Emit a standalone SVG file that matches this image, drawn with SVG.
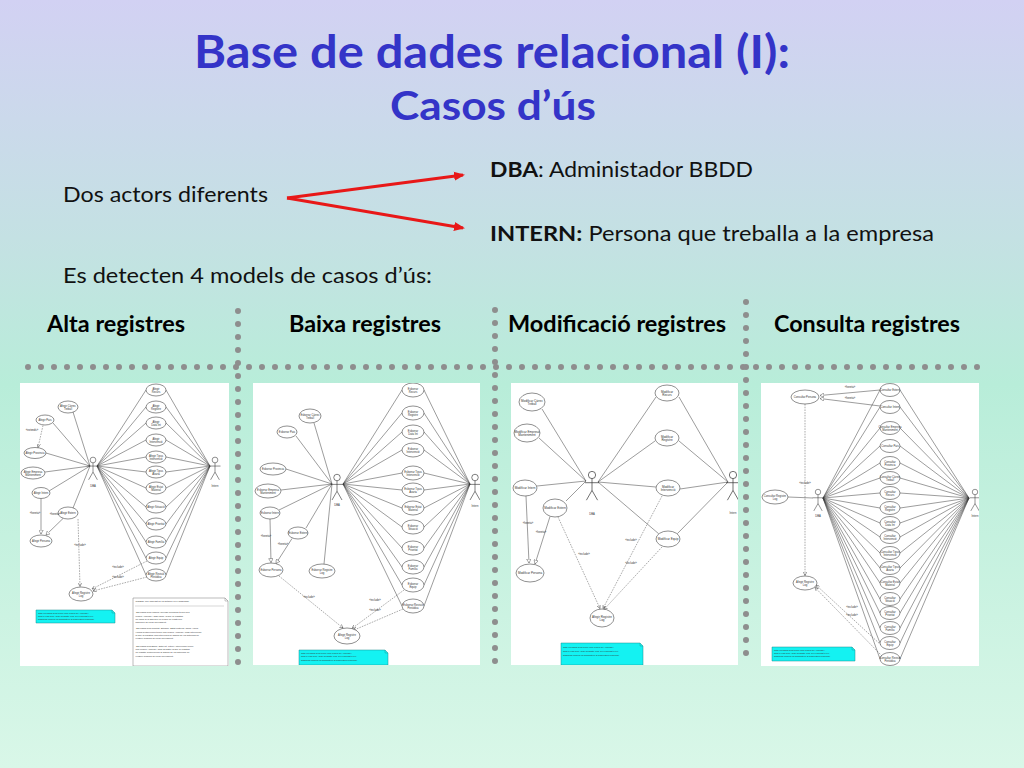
<svg xmlns="http://www.w3.org/2000/svg" xmlns:xlink="http://www.w3.org/1999/xlink" width="1024" height="768" viewBox="0 0 1024 768">
<defs>
<linearGradient id="bg" x1="0" y1="0" x2="0" y2="1">
<stop offset="0" stop-color="#d2d1f3"/>
<stop offset="0.33" stop-color="#c3e2e2"/>
<stop offset="0.5" stop-color="#b8edd9"/>
<stop offset="1" stop-color="#d9f7e8"/>
</linearGradient>
<marker id="redHead" markerUnits="userSpaceOnUse" markerWidth="11" markerHeight="10" refX="9" refY="5" orient="auto">
<path d="M0,0.5 L11,5 L0,9.5 z" fill="#e81818"/>
</marker>
<marker id="gen" markerUnits="userSpaceOnUse" markerWidth="5" markerHeight="5" refX="4.2" refY="2.5" orient="auto">
<path d="M0.3,0.3 L4.2,2.5 L0.3,4.7 z" fill="#fff" stroke="#333" stroke-width="0.4"/>
</marker>
<marker id="opn" markerUnits="userSpaceOnUse" markerWidth="4" markerHeight="4" refX="3.6" refY="2" orient="auto">
<path d="M0,0.2 L3.6,2 L0,3.8" fill="none" stroke="#333" stroke-width="0.45"/>
</marker>
<g id="actor" fill="none" stroke="#333" stroke-width="0.5">
<circle cx="0" cy="0" r="2.6" fill="#fff"/>
<line x1="0" y1="2.6" x2="0" y2="11"/>
<line x1="-5" y1="5.5" x2="5" y2="5.5"/>
<line x1="0" y1="11" x2="-4" y2="18"/>
<line x1="0" y1="11" x2="4" y2="18"/>
</g>
<clipPath id="c1"><rect x="20" y="383" width="209" height="283"/></clipPath>
<clipPath id="c2"><rect x="253" y="383" width="227" height="282"/></clipPath>
<clipPath id="c3"><rect x="511" y="383" width="227" height="282"/></clipPath>
<clipPath id="c4"><rect x="761" y="383" width="218" height="283"/></clipPath>
</defs>
<style>
.title{font-family:"Lato","Liberation Sans",sans-serif;font-weight:bold;fill:#3434c8;text-anchor:middle}
.body{font-family:"Lato","Liberation Sans",sans-serif;font-size:21px;fill:#111}
.head{font-family:"Lato","Liberation Sans",sans-serif;font-size:22px;font-weight:bold;fill:#000;text-anchor:middle}
.dots{stroke:#8e8e8e;stroke-width:6;stroke-linecap:round;stroke-dasharray:0 13;fill:none}
.frame{fill:#fff}
.uc{fill:#fff;stroke:#333;stroke-width:0.55}
.ln{stroke:#3a3a3a;stroke-width:0.5;fill:none}
.ds{stroke:#444;stroke-width:0.45;stroke-dasharray:1.6 1.1;fill:none}
.t{font-family:"Liberation Sans",Arial,sans-serif;font-size:2.7px;fill:#333;text-anchor:middle}
.tb{font-family:"Liberation Sans",Arial,sans-serif;font-size:3px;fill:#333;text-anchor:middle}
.n{font-family:"Liberation Sans",Arial,sans-serif;font-size:2.3px;fill:#333}
.cy{fill:#14f2f2;stroke:#1a8f8f;stroke-width:0.5}
.wn{fill:#fff;stroke:#777;stroke-width:0.5}
.arrow{stroke:#e81818;stroke-width:3;fill:none}
</style>
<rect x="0" y="0" width="1024" height="768" fill="url(#bg)"/>

<g id="title">
<text class="title" x="492" y="68" font-size="46" textLength="596" lengthAdjust="spacingAndGlyphs">Base de dades relacional (I):</text>
<text class="title" x="493" y="120" font-size="40" textLength="206" lengthAdjust="spacingAndGlyphs">Casos d’ús</text>
</g>

<g id="node-actors"><text class="body" x="63" y="202" textLength="205" lengthAdjust="spacingAndGlyphs">Dos actors diferents</text></g>
<g id="node-dba"><text class="body" x="490" y="177" textLength="263" lengthAdjust="spacingAndGlyphs"><tspan font-weight="bold">DBA</tspan>: Administador BBDD</text></g>
<g id="node-intern"><text class="body" x="490" y="241" textLength="444" lengthAdjust="spacingAndGlyphs"><tspan font-weight="bold">INTERN:</tspan> Persona que treballa a la empresa</text></g>
<g id="connectors">
<line class="arrow" x1="287" y1="198" x2="463" y2="175" marker-end="url(#redHead)"/>
<line class="arrow" x1="287" y1="198" x2="463" y2="228" marker-end="url(#redHead)"/>
</g>
<g id="node-models"><text class="body" x="63" y="283" textLength="369" lengthAdjust="spacingAndGlyphs">Es detecten 4 models de casos d’ús:</text></g>

<g id="headings">
<text class="head" x="116" y="332" textLength="138" lengthAdjust="spacingAndGlyphs">Alta registres</text>
<text class="head" x="365" y="332" textLength="152" lengthAdjust="spacingAndGlyphs">Baixa registres</text>
<text class="head" x="617" y="332" textLength="218" lengthAdjust="spacingAndGlyphs">Modificació registres</text>
<text class="head" x="867" y="332" textLength="186" lengthAdjust="spacingAndGlyphs">Consulta registres</text>
</g>

<g id="separators">
<line class="dots" x1="28" y1="367" x2="980" y2="367"/>
<line class="dots" x1="238" y1="311" x2="238" y2="663"/>
<line class="dots" x1="495" y1="310" x2="495" y2="663"/>
<line class="dots" x1="746" y1="302" x2="746" y2="663"/>
</g>

<!-- ============ Thumbnail 1 : Alta ============ -->
<g id="thumb-alta">
<rect class="frame" x="20" y="383" width="209" height="283"/>
<g clip-path="url(#c1)">
<path class="ln" d="M97 466L146 390M97 466L146 407M97 466L146 423M97 466L146 440M97 466L146 457M97 466L146 472M97 466L146 488M97 466L146 507M97 466L146 524M97 466L146 542M97 466L146 558M97 466L146 575
M166 390L210 466M166 407L210 466M166 423L210 466M166 440L210 466M166 457L210 466M166 472L210 466M166 488L210 466M166 507L210 466M166 524L210 466M166 542L210 466M166 558L210 466M166 575L210 466
M90 466L73 412M90 466L53 423M90 466L46 453M90 466L45 472M90 466L49 491M90 466L73 508"/>
<path class="ln" d="M41 498.5L41 534" marker-end="url(#gen)"/>
<path class="ln" d="M63 518.5L46 535" marker-end="url(#gen)"/>
<path class="ds" d="M43 425.5L38 447.5" marker-end="url(#opn)"/>
<path class="ds" d="M78 519L80 586.5" marker-end="url(#opn)"/>
<path class="ds" d="M147 561L92 589" marker-end="url(#opn)"/>
<path class="ds" d="M147 577L93 591" marker-end="url(#opn)"/>
<g>
<ellipse class="uc" cx="156" cy="390" rx="10" ry="6"/><text class="t" x="156" y="389.5">Afegir</text><text class="t" x="156" y="392.5">Recurs</text>
<ellipse class="uc" cx="156" cy="407" rx="10" ry="6"/><text class="t" x="156" y="406.5">Afegir</text><text class="t" x="156" y="409.5">Registre</text>
<ellipse class="uc" cx="156" cy="423" rx="10" ry="6"/><text class="t" x="156" y="422.5">Afegir</text><text class="t" x="156" y="425.5">Data Int</text>
<ellipse class="uc" cx="156" cy="440" rx="10" ry="6"/><text class="t" x="156" y="439.5">Afegir</text><text class="t" x="156" y="442.5">Intervenció</text>
<ellipse class="uc" cx="156" cy="457" rx="10" ry="6"/><text class="t" x="156" y="456.5">Afegir Tipus</text><text class="t" x="156" y="459.5">Intervenció</text>
<ellipse class="uc" cx="156" cy="472" rx="10" ry="6"/><text class="t" x="156" y="471.5">Afegir Tipus</text><text class="t" x="156" y="474.5">Avaria</text>
<ellipse class="uc" cx="156" cy="488" rx="10" ry="6"/><text class="t" x="156" y="487.5">Afegir Estat</text><text class="t" x="156" y="490.5">Material</text>
<ellipse class="uc" cx="156" cy="507" rx="10" ry="6"/><text class="t" x="156" y="508">Afegir Situació</text>
<ellipse class="uc" cx="156" cy="524" rx="10" ry="6"/><text class="t" x="156" y="525">Afegir Prioritat</text>
<ellipse class="uc" cx="156" cy="542" rx="10" ry="6"/><text class="t" x="156" y="543">Afegir Família</text>
<ellipse class="uc" cx="156" cy="558" rx="10" ry="6"/><text class="t" x="156" y="559">Afegir Equip</text>
<ellipse class="uc" cx="156" cy="575" rx="10" ry="6"/><text class="t" x="156" y="574.5">Afegir Revisió</text><text class="t" x="156" y="577.5">Periòdica</text>
<ellipse class="uc" cx="68" cy="407" rx="10" ry="6"/><text class="t" x="68" y="406.5">Afegir Càrrec</text><text class="t" x="68" y="409.5">Treball</text>
<ellipse class="uc" cx="45" cy="420" rx="9" ry="5"/><text class="t" x="45" y="421">Afegir Pais</text>
<ellipse class="uc" cx="35" cy="453" rx="11" ry="5.5"/><text class="t" x="35" y="454">Afegir Provincia</text>
<ellipse class="uc" cx="33" cy="473" rx="12" ry="6"/><text class="t" x="33" y="472.5">Afegir Empresa</text><text class="t" x="33" y="475.5">Manteniment</text>
<ellipse class="uc" cx="41" cy="493" rx="9" ry="5.5"/><text class="t" x="41" y="494">Afegir Intern</text>
<ellipse class="uc" cx="68" cy="513" rx="10" ry="6"/><text class="t" x="68" y="514">Afegir Extern</text>
<ellipse class="uc" cx="41" cy="541" rx="11" ry="6"/><text class="t" x="41" y="542">Afegir Persona</text>
<ellipse class="uc" cx="81" cy="594" rx="12" ry="7"/><text class="t" x="81" y="593.5">Afegir Registre</text><text class="t" x="81" y="596.5">Log</text>
</g>
<text class="t" x="32" y="431">«extends»</text>
<text class="t" x="35" y="514">«hereta»</text>
<text class="t" x="55" y="515">«hereta»</text>
<text class="t" x="80" y="546">«include»</text>
<text class="t" x="118" y="568">«include»</text>
<text class="t" x="118" y="578">«include»</text>
<use xlink:href="#actor" href="#actor" transform="translate(93,460) scale(1.1)"/>
<use xlink:href="#actor" href="#actor" transform="translate(215,460) scale(1.1)"/>
<text class="t" x="93" y="487">DBA</text>
<text class="t" x="215" y="487">Intern</text>
<path class="cy" d="M36 610H112L115 613V623H36Z"/>
<path fill="none" stroke="#1a8f8f" stroke-width="0.4" d="M112 610V613H115"/>
<text class="n" x="38" y="613.5">Tots els casos d'ús tenen una relació de «include»</text>
<text class="n" x="38" y="616.7">amb el cas d'ús Afegir Registre Log. Per claredat en el</text>
<text class="n" x="38" y="619.9">diagrama només es simbolitzen 3 d'aquestes relacions.</text>
<path class="wn" d="M133 598H225L228 601V666H133Z"/>
<path fill="none" stroke="#777" stroke-width="0.4" d="M225 598V601H228"/>
<text class="n" x="135.5" y="601.5">NOTES: (per claredat no es detallen en el diagrama)</text>
<line x1="135" y1="606" x2="224" y2="606" stroke="#777" stroke-width="0.3"/>
<text class="n" x="135.5" y="613.3">-Els casos d'ús Família i Revisió Periòdica tenen una</text>
<text class="n" x="135.5" y="616.6">relació «include» amb equip, ja que al registrar</text>
<text class="n" x="135.5" y="619.9">un equip si la família o la revisió no existeixen</text>
<text class="n" x="135.5" y="623.2">s'haurien de crear prèviament.</text>
<text class="n" x="135.5" y="629.3">-Els casos d'ús Prioritat, Situació, Estat Material, Tipus Avaria,</text>
<text class="n" x="135.5" y="632.6">i Tipus d'Intervenció tenen una relació «include» amb intervenció,</text>
<text class="n" x="135.5" y="635.9">ja que al registrar una intervenció si alguna de les anteriors no</text>
<text class="n" x="135.5" y="639.2">existeix s'hauria de crear prèviament.</text>
<text class="n" x="135.5" y="646.7">-Els casos d'ús Equip, Data Int, Intern i Intervenció tenen</text>
<text class="n" x="135.5" y="650">una relació «include» amb Registre ja que al registrar</text>
<text class="n" x="135.5" y="653.3">un registre d'intervenció si alguna de les anteriors no</text>
<text class="n" x="135.5" y="656.6">existeix s'hauria de crear prèviament.</text>
</g>
</g>

<!-- ============ Thumbnail 2 : Baixa ============ -->
<g id="thumb-baixa">
<rect class="frame" x="253" y="383" width="227" height="282"/>
<g clip-path="url(#c2)">
<path class="ln" d="M343 484L402 390M343 484L402 413M343 484L402 432M343 484L402 450M343 484L402 473M343 484L402 490M343 484L402 508M343 484L402 527M343 484L402 548M343 484L402 567M343 484L402 585M343 484L402 606
M424 390L470 484M424 413L470 484M424 432L470 484M424 450L470 484M424 473L470 484M424 490L470 484M424 508L470 484M424 527L470 484M424 548L470 484M424 567L470 484M424 585L470 484M424 606L470 484
M332 484L314 423M332 484L296 436M332 484L286 469M332 484L281 490M332 484L279 510M332 484L306 528M332 484L324 564"/>
<path class="ln" d="M270 519L271 562.5" marker-end="url(#gen)"/>
<path class="ln" d="M292 538.5L276 563.5" marker-end="url(#gen)"/>
<path class="ds" d="M279 576L343 628" marker-end="url(#opn)"/>
<path class="ds" d="M404 590L352 628.5" marker-end="url(#opn)"/>
<path class="ds" d="M403 609L353 630.5" marker-end="url(#opn)"/>
<g>
<ellipse class="uc" cx="413" cy="390" rx="11" ry="7"/><text class="t" x="413" y="389.5">Esborrar</text><text class="t" x="413" y="392.5">Recurs</text>
<ellipse class="uc" cx="413" cy="413" rx="11" ry="7"/><text class="t" x="413" y="412.5">Esborrar</text><text class="t" x="413" y="415.5">Registre</text>
<ellipse class="uc" cx="413" cy="432" rx="11" ry="7"/><text class="t" x="413" y="431.5">Esborrar</text><text class="t" x="413" y="434.5">Data Int</text>
<ellipse class="uc" cx="413" cy="450" rx="11" ry="7"/><text class="t" x="413" y="449.5">Esborrar</text><text class="t" x="413" y="452.5">Intervenció</text>
<ellipse class="uc" cx="413" cy="473" rx="11" ry="7"/><text class="t" x="413" y="472.5">Esborrar Tipus</text><text class="t" x="413" y="475.5">Intervenció</text>
<ellipse class="uc" cx="413" cy="490" rx="11" ry="7"/><text class="t" x="413" y="489.5">Esborrar Tipus</text><text class="t" x="413" y="492.5">Avaria</text>
<ellipse class="uc" cx="413" cy="508" rx="11" ry="7"/><text class="t" x="413" y="507.5">Esborrar Estat</text><text class="t" x="413" y="510.5">Material</text>
<ellipse class="uc" cx="413" cy="527" rx="11" ry="7"/><text class="t" x="413" y="526.5">Esborrar</text><text class="t" x="413" y="529.5">Situació</text>
<ellipse class="uc" cx="413" cy="548" rx="11" ry="7"/><text class="t" x="413" y="547.5">Esborrar</text><text class="t" x="413" y="550.5">Prioritat</text>
<ellipse class="uc" cx="413" cy="567" rx="11" ry="7"/><text class="t" x="413" y="566.5">Esborrar</text><text class="t" x="413" y="569.5">Família</text>
<ellipse class="uc" cx="413" cy="585" rx="11" ry="7"/><text class="t" x="413" y="584.5">Esborrar</text><text class="t" x="413" y="587.5">Equip</text>
<ellipse class="uc" cx="413" cy="606" rx="11" ry="7"/><text class="t" x="413" y="605.5">Esborrar Revisió</text><text class="t" x="413" y="608.5">Periòdica</text>
<ellipse class="uc" cx="310" cy="416" rx="11" ry="7"/><text class="t" x="310" y="415.5">Esborrar Càrrec</text><text class="t" x="310" y="418.5">Treball</text>
<ellipse class="uc" cx="287" cy="432" rx="10" ry="6"/><text class="t" x="287" y="433">Esborrar Pais</text>
<ellipse class="uc" cx="273" cy="469" rx="13" ry="6"/><text class="t" x="273" y="470">Esborrar Provincia</text>
<ellipse class="uc" cx="268" cy="491" rx="13" ry="7"/><text class="t" x="268" y="490.5">Esborrar Empresa</text><text class="t" x="268" y="493.5">Manteniment</text>
<ellipse class="uc" cx="270" cy="513" rx="10" ry="6"/><text class="t" x="270" y="514">Esborrar Intern</text>
<ellipse class="uc" cx="298" cy="533" rx="10" ry="6"/><text class="t" x="298" y="534">Esborrar Extern</text>
<ellipse class="uc" cx="271" cy="570" rx="12" ry="7"/><text class="t" x="271" y="571">Esborrar Persona</text>
<ellipse class="uc" cx="322" cy="571" rx="13" ry="7"/><text class="t" x="322" y="570.5">Esborrar Registre</text><text class="t" x="322" y="573.5">Log</text>
<ellipse class="uc" cx="347" cy="636" rx="13" ry="8"/><text class="t" x="347" y="635.5">Afegir Registre</text><text class="t" x="347" y="638.5">Log</text>
</g>
<text class="t" x="266" y="537">«hereta»</text>
<text class="t" x="283" y="545">«hereta»</text>
<text class="t" x="309" y="598">«include»</text>
<text class="t" x="375" y="601">«include»</text>
<text class="t" x="375" y="611">«include»</text>
<use xlink:href="#actor" href="#actor" transform="translate(337,477.5) scale(1.25)"/>
<use xlink:href="#actor" href="#actor" transform="translate(475,477.5) scale(1.25)"/>
<text class="t" x="337" y="506">DBA</text>
<text class="t" x="475" y="507">Intern</text>
<path class="cy" d="M299 650H385L388 653V665H299Z"/>
<path fill="none" stroke="#1a8f8f" stroke-width="0.4" d="M385 650V653H388"/>
<text class="n" x="301" y="653.8">Tots els casos d'ús tenen una relació de «include»</text>
<text class="n" x="301" y="657.2">amb el cas d'ús Afegir Registre Log. Per claredat en el</text>
<text class="n" x="301" y="660.6">diagrama només es simbolitzen 3 d'aquestes relacions.</text>
</g>
</g>

<!-- ============ Thumbnail 3 : Modificació ============ -->
<g id="thumb-modificacio">
<rect class="frame" x="511" y="383" width="227" height="282"/>
<g clip-path="url(#c3)">
<path class="ln" d="M598 482L656 397M679 397L728 482M598 482L655 441M679 441L728 482M598 482L656 487M680 489L728 482M598 482L659 534M677 534L728 482
M586 481L542 409M586 481L539 438M586 481L537 486M586 481L566 501"/>
<path class="ln" d="M526 496L529 563" marker-end="url(#gen)"/>
<path class="ln" d="M550 516.5L535 564" marker-end="url(#gen)"/>
<path class="ds" d="M558 517L600 608.5" marker-end="url(#opn)"/>
<path class="ds" d="M662 496L603 608.5" marker-end="url(#opn)"/>
<path class="ds" d="M662 547L604 609.5" marker-end="url(#opn)"/>
<g>
<ellipse class="uc" cx="667" cy="393" rx="12" ry="8"/><text class="tb" x="667" y="392.5">Modificar</text><text class="tb" x="667" y="395.8">Recurs</text>
<ellipse class="uc" cx="667" cy="438" rx="12" ry="8"/><text class="tb" x="667" y="437.5">Modificar</text><text class="tb" x="667" y="440.8">Registre</text>
<ellipse class="uc" cx="668" cy="488" rx="12" ry="8"/><text class="tb" x="668" y="487.5">Modificar</text><text class="tb" x="668" y="490.8">Intervenció</text>
<ellipse class="uc" cx="668" cy="539" rx="12" ry="8"/><text class="tb" x="668" y="540">Modificar Equip</text>
<ellipse class="uc" cx="532" cy="402" rx="13" ry="9"/><text class="tb" x="532" y="401.5">Modificar Càrrec</text><text class="tb" x="532" y="404.8">Treball</text>
<ellipse class="uc" cx="527" cy="433" rx="13" ry="9"/><text class="tb" x="527" y="432.5">Modificar Empresa</text><text class="tb" x="527" y="435.8">Manteniment</text>
<ellipse class="uc" cx="525" cy="488" rx="12" ry="8"/><text class="tb" x="525" y="489">Modificar Intern</text>
<ellipse class="uc" cx="555" cy="508" rx="12" ry="9"/><text class="tb" x="555" y="509">Modificar Extern</text>
<ellipse class="uc" cx="530" cy="573" rx="14" ry="9"/><text class="tb" x="530" y="574">Modificar Persona</text>
<ellipse class="uc" cx="602" cy="618" rx="12" ry="9"/><text class="tb" x="602" y="617.5">Afegir Registre</text><text class="tb" x="602" y="620.8">Log</text>
</g>
<text class="t" x="528" y="524">«hereta»</text>
<text class="t" x="541" y="533">«hereta»</text>
<text class="t" x="584" y="555">«include»</text>
<text class="t" x="631" y="541">«include»</text>
<text class="t" x="631" y="564">«include»</text>
<use xlink:href="#actor" href="#actor" transform="translate(592,475) scale(1.4)"/>
<use xlink:href="#actor" href="#actor" transform="translate(733,475) scale(1.4)"/>
<text class="t" x="592" y="515">DBA</text>
<text class="t" x="733" y="514">Intern</text>
<path class="cy" d="M561 643H640L643 646V665H561Z"/>
<path fill="none" stroke="#1a8f8f" stroke-width="0.4" d="M640 643V646H643"/>
<text class="n" x="563" y="648" font-size="2.6">Tots els casos d'ús tenen una relació de «include»</text>
<text class="n" x="563" y="652" font-size="2.6">amb el cas d'ús Afegir Registre Log. Per claredat en el</text>
<text class="n" x="563" y="656" font-size="2.6">diagrama només es simbolitzen 3 d'aquestes relacions.</text>
</g>
</g>

<!-- ============ Thumbnail 4 : Consulta ============ -->
<g id="thumb-consulta">
<rect class="frame" x="761" y="383" width="218" height="283"/>
<g clip-path="url(#c4)">
<path class="ln" d="M823 498L880 390M823 498L880 407M823 498L880 428M823 498L880 446M823 498L880 463M823 498L880 478M823 498L880 493M823 498L880 508M823 498L880 523M823 498L880 537M823 498L880 553M823 498L880 568M823 498L880 583M823 498L880 599M823 498L880 613M823 498L880 628M823 498L880 643M823 498L880 659
M900 390L969 498M900 407L969 498M900 428L969 498M900 446L969 498M900 463L969 498M900 478L969 498M900 493L969 498M900 508L969 498M900 523L969 498M900 537L969 498M900 553L969 498M900 568L969 498M900 583L969 498M900 599L969 498M900 613L969 498M900 628L969 498M900 643L969 498M900 659L969 498
M788 497L813 498"/>
<path class="ln" d="M880 390L820 395.5" marker-end="url(#gen)"/>
<path class="ln" d="M880 406L820 398.5" marker-end="url(#gen)"/>
<path class="ds" d="M805 404L805 575.5" marker-end="url(#opn)"/>
<path class="ds" d="M881 645L816 585" marker-end="url(#opn)"/>
<path class="ds" d="M882 656L815 587.5" marker-end="url(#opn)"/>
<g>
<ellipse class="uc" cx="890" cy="390" rx="10" ry="6.5"/><text class="t" x="890" y="391">Consultar Extern</text>
<ellipse class="uc" cx="890" cy="407" rx="10" ry="6.5"/><text class="t" x="890" y="408">Consultar Intern</text>
<ellipse class="uc" cx="890" cy="428" rx="10" ry="6.5"/><text class="t" x="890" y="427.5">Consultar Empresa</text><text class="t" x="890" y="430.5">Manteniment</text>
<ellipse class="uc" cx="890" cy="446" rx="10" ry="6.5"/><text class="t" x="890" y="447">Consultar Pais</text>
<ellipse class="uc" cx="890" cy="463" rx="10" ry="6.5"/><text class="t" x="890" y="462.5">Consultar</text><text class="t" x="890" y="465.5">Provincia</text>
<ellipse class="uc" cx="890" cy="478" rx="10" ry="6.5"/><text class="t" x="890" y="477.5">Consultar Càrrec</text><text class="t" x="890" y="480.5">Treball</text>
<ellipse class="uc" cx="890" cy="493" rx="10" ry="6.5"/><text class="t" x="890" y="492.5">Consultar</text><text class="t" x="890" y="495.5">Recurs</text>
<ellipse class="uc" cx="890" cy="508" rx="10" ry="6.5"/><text class="t" x="890" y="507.5">Consultar</text><text class="t" x="890" y="510.5">Registre</text>
<ellipse class="uc" cx="890" cy="523" rx="10" ry="6.5"/><text class="t" x="890" y="522.5">Consultar</text><text class="t" x="890" y="525.5">Data Int</text>
<ellipse class="uc" cx="890" cy="537" rx="10" ry="6.5"/><text class="t" x="890" y="536.5">Consultar</text><text class="t" x="890" y="539.5">Intervenció</text>
<ellipse class="uc" cx="890" cy="553" rx="10" ry="6.5"/><text class="t" x="890" y="552.5">Consultar Tipus</text><text class="t" x="890" y="555.5">Intervenció</text>
<ellipse class="uc" cx="890" cy="568" rx="10" ry="6.5"/><text class="t" x="890" y="567.5">Consultar Tipus</text><text class="t" x="890" y="570.5">Avaria</text>
<ellipse class="uc" cx="890" cy="583" rx="10" ry="6.5"/><text class="t" x="890" y="582.5">Consultar Estat</text><text class="t" x="890" y="585.5">Material</text>
<ellipse class="uc" cx="890" cy="599" rx="10" ry="6.5"/><text class="t" x="890" y="598.5">Consultar</text><text class="t" x="890" y="601.5">Situació</text>
<ellipse class="uc" cx="890" cy="613" rx="10" ry="6.5"/><text class="t" x="890" y="612.5">Consultar</text><text class="t" x="890" y="615.5">Prioritat</text>
<ellipse class="uc" cx="890" cy="628" rx="10" ry="6.5"/><text class="t" x="890" y="627.5">Consultar</text><text class="t" x="890" y="630.5">Família</text>
<ellipse class="uc" cx="890" cy="643" rx="10" ry="6.5"/><text class="t" x="890" y="642.5">Consultar</text><text class="t" x="890" y="645.5">Equip</text>
<ellipse class="uc" cx="890" cy="659" rx="10" ry="6.5"/><text class="t" x="890" y="658.5">Consultar Revisió</text><text class="t" x="890" y="661.5">Periòdica</text>
<ellipse class="uc" cx="805" cy="397" rx="14" ry="7"/><text class="t" x="805" y="398">Consultar Persona</text>
<ellipse class="uc" cx="775" cy="497" rx="13" ry="7"/><text class="t" x="775" y="496.5">Consultar Registre</text><text class="t" x="775" y="499.5">Log</text>
<ellipse class="uc" cx="805" cy="583" rx="12" ry="7"/><text class="t" x="805" y="582.5">Afegir Registre</text><text class="t" x="805" y="585.5">Log</text>
</g>
<text class="t" x="850" y="388">«hereta»</text>
<text class="t" x="850" y="398.5">«hereta»</text>
<text class="t" x="805" y="484">«include»</text>
<text class="t" x="852" y="608">«include»</text>
<text class="t" x="852" y="616">«include»</text>
<use xlink:href="#actor" href="#actor" transform="translate(818,492) scale(1.05)"/>
<use xlink:href="#actor" href="#actor" transform="translate(975,492) scale(1.05)"/>
<text class="t" x="818" y="517">DBA</text>
<text class="t" x="975" y="517">Intern</text>
<path class="cy" d="M772 647H852L855 650V661H772Z"/>
<path fill="none" stroke="#1a8f8f" stroke-width="0.4" d="M852 647V650H855"/>
<text class="n" x="774" y="650.5">Tots els casos d'ús tenen una relació de «include»</text>
<text class="n" x="774" y="653.7">amb el cas d'ús Afegir Registre Log. Per claredat en el</text>
<text class="n" x="774" y="656.9">diagrama només es simbolitzen 3 d'aquestes relacions.</text>
</g>
</g>
</svg>
